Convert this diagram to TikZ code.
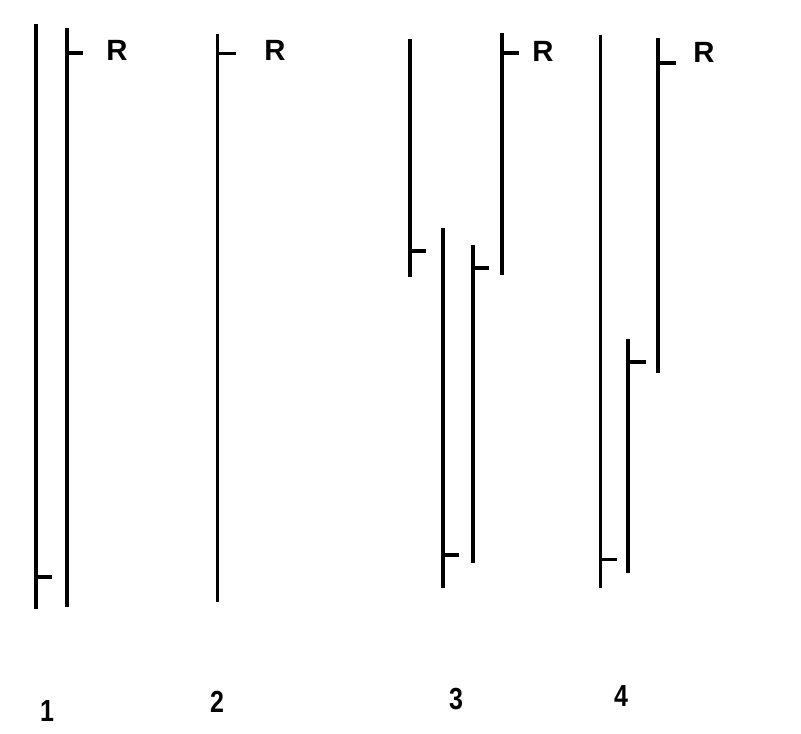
\documentclass[tikz,border=0pt]{standalone}
\usepackage{fontspec}
\setmainfont{Liberation Sans}
\usepackage{tikz}
\usetikzlibrary{positioning}

\begin{document}
\begin{tikzpicture}[
  x=0.03cm, y=-0.03cm,
  font=\bfseries,
  strand/.style={line width=2.9pt, line cap=butt},
  thinstrand/.style={line width=2.5pt, line cap=butt},
  mark R/.style={font=\fontsize{25}{25}\selectfont\bfseries, inner sep=0pt},
  lane/.style={font=\fontsize{26}{26}\selectfont\bfseries, inner sep=0pt, xscale=0.82}
]
\useasboundingbox (0,0) rectangle (801,734);

% lane 1
\draw[strand] (36,24) -- (36,609);
\draw[strand] (36,577) -- (52,577);
\draw[strand] (67,28) -- (67,607);
\draw[strand] (67,53) -- (83,53);
\node[mark R] (r1) at (117,50) {R};

% lane 2
\draw[thinstrand] (217.4,34) -- (217.4,602);
\draw[strand] (217.4,53.4) -- (236,53.4);
\node[mark R] (r2) at (275,50) {R};

% lane 3
\draw[strand] (410,39) -- (410,277);
\draw[strand] (410,251) -- (426,251);
\draw[strand] (443,228) -- (443,588);
\draw[strand] (443,555) -- (459,555);
\draw[strand] (473,245) -- (473,563);
\draw[strand] (473,268) -- (489,268);
\draw[strand] (502,33) -- (502,275);
\draw[strand] (502,53) -- (519,53);
\node[mark R] (r3) at (543,51) {R};

% lane 4
\draw[thinstrand] (600.4,35) -- (600.4,588);
\draw[strand] (600.4,559.4) -- (617,559.4);
\draw[strand] (628,339) -- (628,573);
\draw[strand] (628,362) -- (646,362);
\draw[strand] (658,38) -- (658,373);
\draw[strand] (658,63) -- (676,63);
\node[mark R] (r4) at (704,52) {R};

% lane numbers
\node[lane] (n1) at (47,711) {1};
\node[lane] (n2) at (217,702) {2};
\node[lane] (n3) at (456,699) {3};
\node[lane] (n4) at (621,696) {4};
\end{tikzpicture}
\end{document}
